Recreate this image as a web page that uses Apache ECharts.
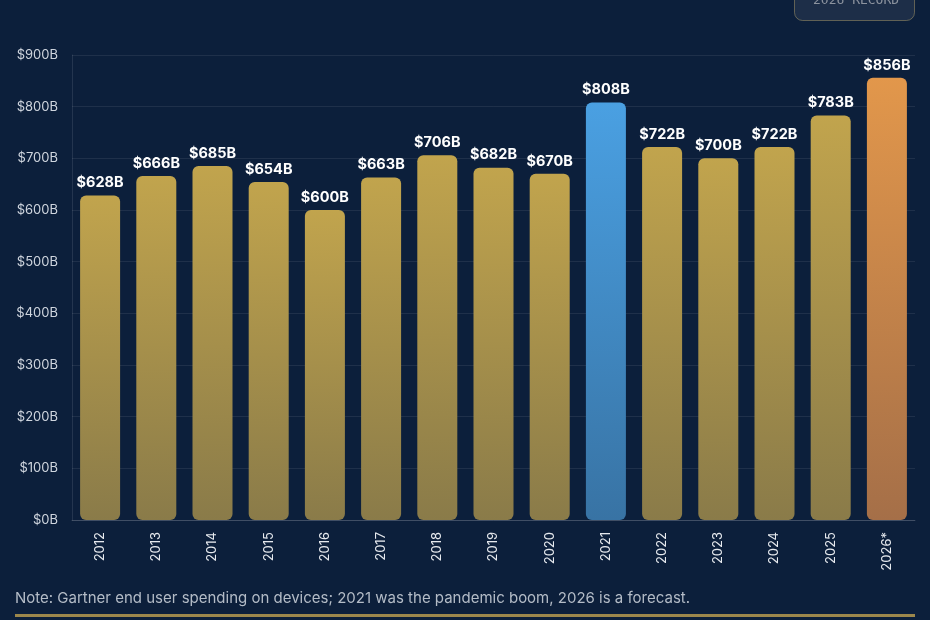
<!DOCTYPE html>
<html>
<head>
<meta charset="utf-8">
<script src="https://cdn.jsdelivr.net/npm/echarts@6/dist/echarts.min.js"></script>
<style>
  html, body { margin: 0; padding: 0; background: #0c1f3b; }
  #chart { width: 930px; height: 620px; }
</style>
</head>
<body>
<div id="chart"></div>
<script>
// data
var years = ['2012','2013','2014','2015','2016','2017','2018','2019','2020','2021','2022','2023','2024','2025','2026*'];
var spending = [628, 666, 685, 654, 600, 663, 706, 682, 670, 808, 722, 700, 722, 783, 856];
var yTicks = [0, 100, 200, 300, 400, 500, 600, 700, 800, 900];
var noteText = 'Note: Gartner end user spending on devices; 2021 was the pandemic boom, 2026 is a forecast.';

function grad(top, bottom) {
  return new echarts.graphic.LinearGradient(0, 0, 0, 1, [
    {offset: 0, color: top},
    {offset: 1, color: bottom}
  ]);
}

var barData = spending.map(function (v, i) {
  var c = grad('#c1a44d', '#8a7b49');
  if (years[i] === '2021') c = grad('#4aa0e2', '#3873a4');
  if (years[i] === '2026*') c = grad('#e2974b', '#a56f48');
  return {value: v, itemStyle: {color: c}};
});

var myChart = echarts.init(document.getElementById('chart'));
var option = {
  backgroundColor: '#0c1f3b',
  animation: false,
  grid: {left: 72, right: 15, top: 55, bottom: 100},
  xAxis: {
    type: 'category',
    data: years,
    axisLine: {lineStyle: {color: 'rgba(255,255,255,0.15)'}},
    axisTick: {show: false},
    axisLabel: {
      rotate: 90,
      color: '#e6e9ee',
      fontFamily: 'Inter, sans-serif',
      fontSize: 13,
      margin: 12
    }
  },
  yAxis: {
    type: 'value',
    min: 0,
    max: yTicks[yTicks.length - 1],
    interval: 100,
    axisLine: {show: true, lineStyle: {color: 'rgba(255,255,255,0.1)'}},
    axisTick: {show: false},
    splitLine: {lineStyle: {color: 'rgba(255,255,255,0.08)'}},
    axisLabel: {
      color: '#cfd5de',
      fontFamily: 'Inter, sans-serif',
      fontSize: 13,
      margin: 14,
      formatter: function (v) { return '$' + v + 'B'; }
    }
  },
  series: [{
    type: 'bar',
    data: barData,
    barWidth: 40,
    itemStyle: {borderRadius: 6},
    label: {
      show: true,
      position: 'top',
      distance: 5,
      color: '#ffffff',
      fontFamily: 'Inter, sans-serif',
      fontWeight: 'bold',
      fontSize: 14.5,
      formatter: function (p) { return '$' + p.value + 'B'; }
    }
  }],
  graphic: [
    {
      type: 'rect',
      left: 794, top: -20,
      shape: {width: 120, height: 40, r: 8},
      style: {fill: 'rgba(255,255,255,0.07)', stroke: 'rgba(190,170,110,0.45)', lineWidth: 1}
    },
    {
      type: 'text',
      left: 813, top: -6,
      style: {text: '2026 RECORD', fill: '#8c939e', font: '13px "DejaVu Sans Mono", monospace'}
    },
    {
      type: 'text',
      left: 15, top: 591,
      style: {text: noteText, fill: '#b4bcc7', font: '15px Inter, sans-serif'}
    },
    {
      type: 'rect',
      left: 15, top: 614,
      shape: {width: 900, height: 3},
      style: {fill: '#9c874c'}
    }
  ]
};
myChart.setOption(option);
</script>
</body>
</html>
